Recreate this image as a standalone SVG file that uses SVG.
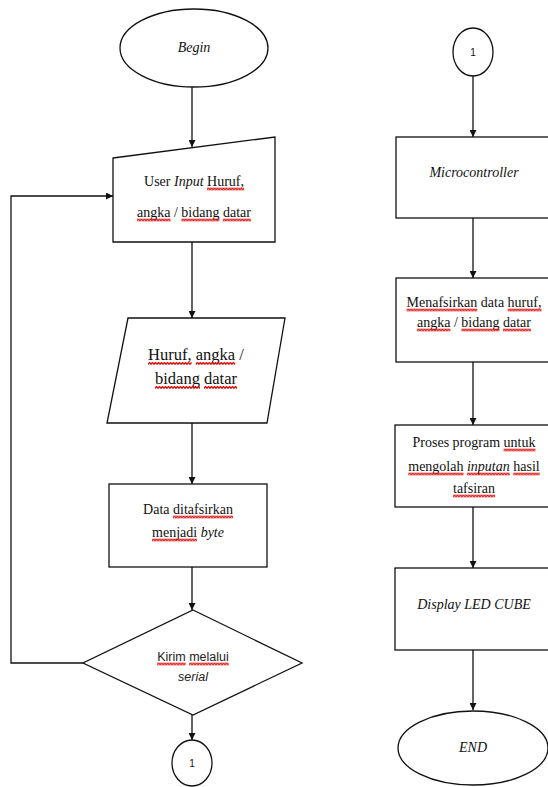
<svg xmlns="http://www.w3.org/2000/svg" width="548" height="787" viewBox="0 0 548 787">
<style>
.s{fill:#fff;stroke:#111;stroke-width:1.3}
.c{fill:none;stroke:#111;stroke-width:1.3}
.t{font-family:"Liberation Serif",serif;font-size:14px;fill:#111;text-anchor:middle}
.big{font-size:16.5px}
.sans{font-family:"Liberation Sans",Arial,sans-serif;font-size:12.5px;fill:#222;text-anchor:middle}
.num{font-family:"Liberation Sans",Arial,sans-serif;font-size:10px;fill:#111;text-anchor:middle}
.i{font-style:italic}
.w{fill:url(#wave)}
</style>
<defs>
<marker id="a" viewBox="0 0 10 10" refX="10" refY="5" markerWidth="7" markerHeight="7" orient="auto" markerUnits="userSpaceOnUse">
<path d="M0,0 L10,5 L0,10 z" fill="#111"/>
</marker>
<pattern id="wave" patternUnits="userSpaceOnUse" width="3" height="3">
<path d="M-0.2,2.6 L1.5,0.4 L3.2,2.6" fill="none" stroke="#e00000" stroke-width="1.2"/>
</pattern>
</defs>
<g id="connectors">
<path class="c" d="M192,87 V147" marker-end="url(#a)"/>
<path class="c" d="M192,242 V318" marker-end="url(#a)"/>
<path class="c" d="M192,423 V484" marker-end="url(#a)"/>
<path class="c" d="M192,567 V610" marker-end="url(#a)"/>
<path class="c" d="M192,715 V740" marker-end="url(#a)"/>
<path class="c" d="M83,663 H11 V196 H113" marker-end="url(#a)"/>
<path class="c" d="M473,76 V137" marker-end="url(#a)"/>
<path class="c" d="M473,218 V278" marker-end="url(#a)"/>
<path class="c" d="M473,362 V425" marker-end="url(#a)"/>
<path class="c" d="M473,507 V568" marker-end="url(#a)"/>
<path class="c" d="M473,650 V710" marker-end="url(#a)"/>
</g>
<g id="begin">
<ellipse class="s" cx="194" cy="48" rx="74" ry="39"/>
<text class="t i" x="194" y="52">Begin</text>
</g>
<g id="userinput">
<path class="s" d="M113,158 L275,137 V242 H113 z"/>
<text class="t" x="194" y="186">User <tspan class="i">Input</tspan> Huruf,</text>
<text class="t" x="194" y="217">angka / bidang datar</text>
<rect class="w" width="37" height="3" transform="translate(207,187.5)"/>
<rect class="w" width="33.5" height="3" transform="translate(137,218.5)"/>
<rect class="w" width="38" height="3" transform="translate(181.4,218.5)"/>
<rect class="w" width="28" height="3" transform="translate(222.9,218.5)"/>
</g>
<g id="data-io">
<path class="s" d="M128,318 H285 L267,423 H107 z"/>
<text class="t big" x="196" y="360">Huruf, angka /</text>
<text class="t big" x="196" y="384">bidang datar</text>
<rect class="w" width="43.5" height="3" transform="translate(148.1,362)"/>
<rect class="w" width="39.4" height="3" transform="translate(195.8,362)"/>
<rect class="w" width="45" height="3" transform="translate(155,386)"/>
<rect class="w" width="33" height="3" transform="translate(204,386)"/>
</g>
<g id="byte">
<rect class="s" x="109" y="484" width="158" height="83"/>
<text class="t" x="188" y="514">Data ditafsirkan</text>
<text class="t" x="188" y="537">menjadi <tspan class="i">byte</tspan></text>
<rect class="w" width="60" height="3" transform="translate(173,515.5)"/>
<rect class="w" width="45" height="3" transform="translate(152,538.5)"/>
</g>
<g id="serial">
<path class="s" d="M193,610 L302,663 L193,715 L83,663 z"/>
<text class="sans" x="193" y="661">Kirim melalui</text>
<text class="sans i" x="193" y="681">serial</text>
<rect class="w" width="28.5" height="3" transform="translate(157.2,662.5)"/>
<rect class="w" width="39.6" height="3" transform="translate(189.1,662.5)"/>
</g>
<g id="conn-out">
<ellipse class="s" cx="192" cy="763" rx="20" ry="23"/>
<text class="num" x="192" y="767">1</text>
</g>
<g id="conn-in">
<ellipse class="s" cx="473" cy="52" rx="20" ry="24"/>
<text class="num" x="473" y="56">1</text>
</g>
<g id="micro">
<rect class="s" x="396" y="137" width="156" height="81"/>
<text class="t i" x="474" y="177">Microcontroller</text>
</g>
<g id="tafsir">
<rect class="s" x="396" y="278" width="156" height="84"/>
<text class="t" x="474" y="307">Menafsirkan data huruf,</text>
<text class="t" x="474" y="327">angka / bidang datar</text>
<rect class="w" width="70.7" height="3" transform="translate(406.6,308.5)"/>
<rect class="w" width="33.8" height="3" transform="translate(507.7,308.5)"/>
<rect class="w" width="33.4" height="3" transform="translate(417,328.5)"/>
<rect class="w" width="38.1" height="3" transform="translate(461.4,328.5)"/>
<rect class="w" width="28" height="3" transform="translate(502.9,328.5)"/>
</g>
<g id="proses">
<rect class="s" x="395" y="425" width="157" height="82"/>
<text class="t" x="474" y="447">Proses program untuk</text>
<text class="t" x="474" y="471">mengolah <tspan class="i">inputan</tspan> hasil</text>
<text class="t" x="474" y="493">tafsiran</text>
<rect class="w" width="31.9" height="3" transform="translate(503.6,448.5)"/>
<rect class="w" width="55.2" height="3" transform="translate(408.3,472.5)"/>
<rect class="w" width="42.8" height="3" transform="translate(467,472.5)"/>
<rect class="w" width="26.4" height="3" transform="translate(513.3,472.5)"/>
<rect class="w" width="42" height="3" transform="translate(453,494.5)"/>
</g>
<g id="display">
<rect class="s" x="395" y="568" width="157" height="82"/>
<text class="t i" x="474" y="609">Display LED CUBE</text>
</g>
<g id="end">
<ellipse class="s" cx="473" cy="748" rx="75" ry="37"/>
<text class="t i" x="473" y="752">END</text>
</g>
</svg>
